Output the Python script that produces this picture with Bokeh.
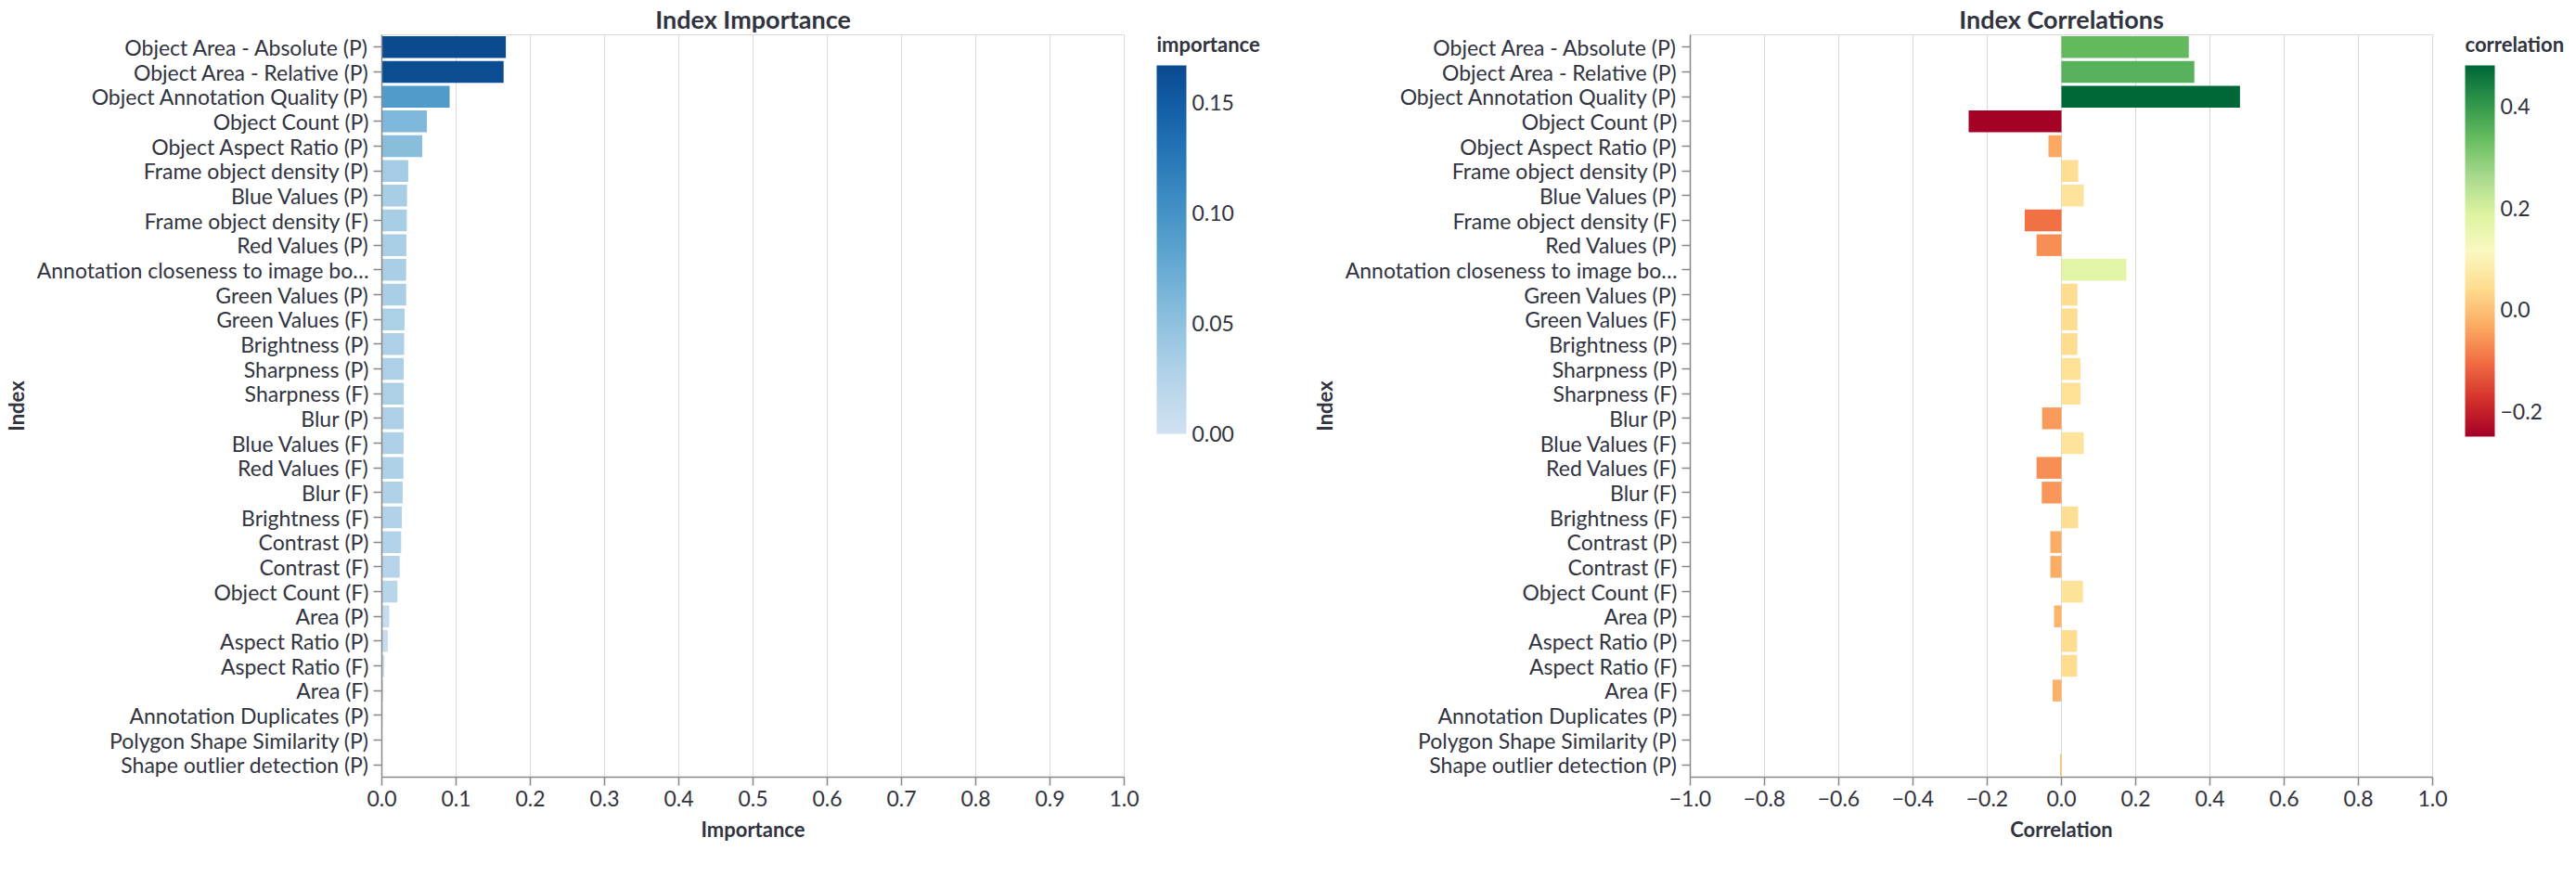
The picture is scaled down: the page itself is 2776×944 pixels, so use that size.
from bokeh.plotting import figure
from bokeh.layouts import row
from bokeh.models import (ColumnDataSource, FactorRange, Range1d, FixedTicker,
                          LinearColorMapper, ColorBar, CustomJSTickFormatter)
from bokeh.transform import transform
from bokeh.embed import file_html
from bokeh.resources import INLINE

# ---------------- data ----------------
index_names = [
    "Object Area - Absolute (P)", "Object Area - Relative (P)", "Object Annotation Quality (P)",
    "Object Count (P)", "Object Aspect Ratio (P)", "Frame object density (P)", "Blue Values (P)",
    "Frame object density (F)", "Red Values (P)", "Annotation closeness to image bo\u2026",
    "Green Values (P)", "Green Values (F)", "Brightness (P)", "Sharpness (P)", "Sharpness (F)",
    "Blur (P)", "Blue Values (F)", "Red Values (F)", "Blur (F)", "Brightness (F)", "Contrast (P)",
    "Contrast (F)", "Object Count (F)", "Area (P)", "Aspect Ratio (P)", "Aspect Ratio (F)",
    "Area (F)", "Annotation Duplicates (P)", "Polygon Shape Similarity (P)",
    "Shape outlier detection (P)",
]
importance = [0.167, 0.164, 0.0913, 0.0606, 0.0544, 0.0355, 0.0339, 0.0336, 0.033, 0.0327,
              0.0327, 0.0305, 0.030, 0.0295, 0.0295, 0.0295, 0.0293, 0.029, 0.028, 0.027,
              0.026, 0.024, 0.021, 0.010, 0.008, 0.0033, 0.0017, 0.001, 0.0, 0.0]
correlation = [0.343, 0.358, 0.481, -0.250, -0.035, 0.045, 0.060, -0.099, -0.067, 0.175,
               0.043, 0.043, 0.043, 0.051, 0.051, -0.052, 0.060, -0.067, -0.053, 0.045,
               -0.030, -0.030, 0.058, -0.020, 0.042, 0.042, -0.024, 0.0, 0.0, -0.004]

importance_ticks = [0.0, 0.1, 0.2, 0.3, 0.4, 0.5, 0.6, 0.7, 0.8, 0.9, 1.0]
correlation_ticks = [-1.0, -0.8, -0.6, -0.4, -0.2, 0.0, 0.2, 0.4, 0.6, 0.8, 1.0]
importance_legend_ticks = [0.0, 0.05, 0.10, 0.15]
correlation_legend_ticks = [-0.2, 0.0, 0.2, 0.4]

# ---------------- styles ----------------
BLUES = ["#cfe1f2", "#bed8ec", "#a8cee5", "#8fc1de", "#74b2d7", "#5ba3cf",
         "#4592c6", "#3181bd", "#206fb2", "#125ca4", "#0a4a90"]
RDYLGN = ["#a50026", "#d4322c", "#f16e43", "#fcac64", "#fedd90", "#faf8c1",
          "#dcf3a0", "#a9da8e", "#69be61", "#30964a", "#006837"]
FONT = "Lato"
TEXT = "#31333F"


def interp(stops, n=256):
    rgb = [tuple(int(s[i:i + 2], 16) for i in (1, 3, 5)) for s in stops]
    out = []
    for k in range(n):
        t = k / (n - 1) * (len(rgb) - 1)
        i = min(int(t), len(rgb) - 2)
        f = t - i
        c = [round(rgb[i][j] + (rgb[i + 1][j] - rgb[i][j]) * f) for j in range(3)]
        out.append("#%02x%02x%02x" % tuple(c))
    return out


def panel(title, values, xlabel, legend_title, xr, xticks, stops, leg_ticks, digits,
          border_left, border_right, bar_len, cb_y):
    src = ColumnDataSource(dict(name=index_names, val=values))
    mapper = LinearColorMapper(palette=interp(stops), low=min(values), high=max(values))
    p = figure(y_range=FactorRange(factors=list(reversed(index_names)), range_padding=0),
               x_range=Range1d(*xr), frame_width=800, frame_height=800,
               min_border_left=border_left, min_border_right=border_right,
               min_border_top=29, min_border_bottom=10,
               output_backend="svg", toolbar_location=None,
               background_fill_color="white", border_fill_color="white")
    p.hbar(y="name", left=0, right="val", height=0.88, source=src,
           fill_color=transform("val", mapper), line_color=None)

    p.title.text = title
    p.title.align = "center"
    p.title.text_font = FONT
    p.title.text_font_size = "27px"
    p.title.text_font_style = "bold"
    p.title.text_color = TEXT
    p.title.standoff = 2

    p.outline_line_color = "#d9d9d9"
    p.outline_line_width = 1
    p.xgrid.grid_line_color = "#d9d9d9"
    p.xgrid.grid_line_width = 1
    p.ygrid.grid_line_color = None

    p.xaxis.ticker = FixedTicker(ticks=xticks)
    p.xaxis.formatter = CustomJSTickFormatter(
        code="return tick.toFixed(1).replace('-', '\\u2212');")
    p.xaxis.axis_label = xlabel
    p.yaxis.axis_label = "Index"
    for ax in (p.xaxis, p.yaxis):
        ax.axis_line_color = "#888888"
        ax.axis_line_width = 1.5
        ax.major_tick_line_color = "#888888"
        ax.major_tick_line_width = 1.5
        ax.major_tick_out = 9
        ax.major_tick_in = 0
        ax.minor_tick_line_color = None
        ax.major_label_text_font = FONT
        ax.major_label_text_font_size = "23px"
        ax.major_label_text_color = TEXT
        ax.major_label_standoff = 5
        ax.axis_label_text_font = FONT
        ax.axis_label_text_font_size = "22px"
        ax.axis_label_text_font_style = "bold"
        ax.axis_label_text_color = TEXT
        ax.axis_label_standoff = 8
    p.yaxis.axis_label_standoff = 6

    # gradient legend
    cb = ColorBar(color_mapper=mapper, orientation="vertical", width=32, height=bar_len,
                  location=(835, cb_y), padding=0, margin=0,
                  ticker=FixedTicker(ticks=leg_ticks),
                  formatter=CustomJSTickFormatter(
                      code="return tick.toFixed(%d).replace('-', '\\u2212');" % digits),
                  major_tick_line_color=None, bar_line_color=None,
                  border_line_color=None, background_fill_alpha=0,
                  major_label_text_font=FONT, major_label_text_font_size="23px",
                  major_label_text_color=TEXT, label_standoff=6)
    p.add_layout(cb)
    # legend title, drawn horizontally above the gradient
    cb_title = ColorBar(color_mapper=mapper, orientation="horizontal", width=150, height=1,
                        location=(835, cb_y + bar_len + 9), padding=0, margin=0,
                        scale_alpha=0, ticker=FixedTicker(ticks=[]),
                        major_tick_line_color=None, bar_line_color=None,
                        border_line_color=None, background_fill_alpha=0,
                        title=legend_title, title_text_font=FONT,
                        title_text_font_size="22px", title_text_font_style="bold",
                        title_text_color=TEXT, title_standoff=0)
    p.add_layout(cb_title)
    return p


left = panel("Index Importance", importance, "Importance", "importance", (0, 1),
             importance_ticks, BLUES, importance_legend_ticks, 2, 403, 169, 397, 370)
right = panel("Index Correlations", correlation, "Correlation", "correlation", (-1, 1),
              correlation_ticks, RDYLGN, correlation_legend_ticks, 1, 441, 147, 400, 367)

layout = row(left, right, spacing=0)
open("out.html", "w").write(file_html(layout, INLINE))
